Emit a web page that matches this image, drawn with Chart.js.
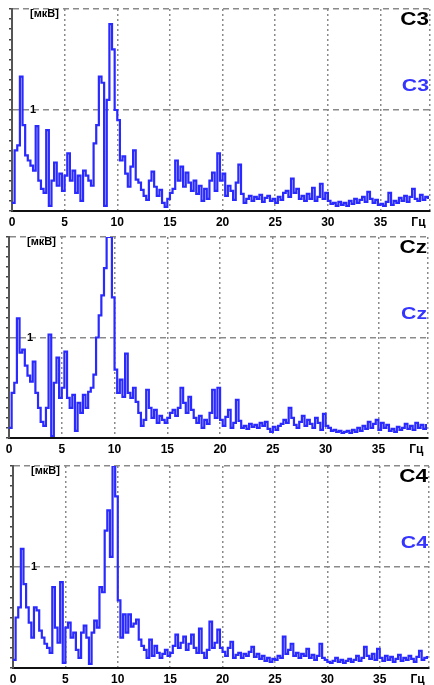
<!DOCTYPE html>
<html>
<head>
<meta charset="utf-8">
<script src="https://cdn.jsdelivr.net/npm/chart.js@4.4.0/dist/chart.umd.min.js"></script>
<style>
  html, body { margin: 0; padding: 0; background: #fff; }
  body { width: 434px; height: 685px; position: relative; overflow: hidden; }
  canvas { position: absolute; left: 0; }
</style>
</head>
<body>
<canvas id="p0" width="434" height="228" style="top:0px"></canvas>
<canvas id="p1" width="434" height="228" style="top:228px"></canvas>
<canvas id="p2" width="434" height="228" style="top:457px"></canvas>
<script>
// spectrum values, one per 0.25 Hz bin starting at 0 Hz
const freqStep = 0.25;
const channelNames = ['C3', 'Cz', 'C4'];
const unitLabel = '[мкВ]';
const freqUnit = 'Гц';
const xTickValues = [0, 5, 10, 15, 20, 25, 30, 35];
const xTickLabels = ['0', '5', '10', '15', '20', '25', '30', '35'];
const xMax = 39.7;
const yMax = 2;

const c3Values = [
  0.08, 0.60, 0.65, 1.33, 0.85, 0.55, 0.50, 0.45, 0.40, 0.84,
  0.30, 0.22, 0.18, 0.80, 0.05, 0.30, 0.48, 0.25, 0.37, 0.20,
  0.35, 0.57, 0.30, 0.40, 0.18, 0.35, 0.10, 0.40, 0.35, 0.30,
  0.25, 0.67, 0.85, 1.33, 1.27, 0.05, 1.10, 1.85, 1.60, 1.00,
  0.90, 0.50, 0.54, 0.37, 0.24, 0.44, 0.60, 0.31, 0.28, 0.21,
  0.15, 0.11, 0.30, 0.39, 0.24, 0.15, 0.21, 0.08, 0.04, 0.12,
  0.18, 0.22, 0.50, 0.30, 0.44, 0.24, 0.38, 0.28, 0.20, 0.30,
  0.17, 0.25, 0.10, 0.22, 0.12, 0.30, 0.38, 0.20, 0.57, 0.30,
  0.37, 0.15, 0.25, 0.20, 0.11, 0.28, 0.46, 0.17, 0.08, 0.12,
  0.15, 0.10, 0.14, 0.12, 0.16, 0.09, 0.13, 0.15, 0.10, 0.12,
  0.08, 0.14, 0.11, 0.18, 0.20, 0.14, 0.32, 0.18, 0.22, 0.12,
  0.15, 0.10, 0.17, 0.12, 0.23, 0.10, 0.14, 0.27, 0.12, 0.18,
  0.10, 0.07, 0.08, 0.05, 0.09, 0.06, 0.08, 0.05, 0.10, 0.07,
  0.12, 0.08, 0.11, 0.14, 0.09, 0.19, 0.12, 0.08, 0.11, 0.06,
  0.07, 0.05, 0.09, 0.18, 0.06, 0.10, 0.08, 0.13, 0.10, 0.15,
  0.09, 0.14, 0.22, 0.12, 0.10, 0.16, 0.11, 0.14, 0.12
];

const czValues = [
  0.10, 0.45, 0.55, 1.19, 0.85, 0.88, 0.72, 0.62, 0.56, 0.76,
  0.45, 0.30, 0.16, 0.12, 0.30, 1.03, 0.02, 0.55, 0.80, 0.40,
  0.50, 0.86, 0.40, 0.30, 0.43, 0.07, 0.35, 0.25, 0.43, 0.30,
  0.46, 0.50, 0.63, 1.00, 1.22, 1.42, 1.69, 2.00, 2.00, 1.40,
  0.68, 0.45, 0.58, 0.41, 0.84, 0.45, 0.40, 0.50, 0.36, 0.25,
  0.12, 0.18, 0.48, 0.30, 0.20, 0.28, 0.15, 0.22, 0.18, 0.15,
  0.20, 0.25, 0.28, 0.22, 0.30, 0.50, 0.35, 0.25, 0.41, 0.28,
  0.20, 0.15, 0.22, 0.10, 0.18, 0.14, 0.25, 0.48, 0.20, 0.50,
  0.18, 0.12, 0.21, 0.28, 0.10, 0.15, 0.38, 0.17, 0.10, 0.12,
  0.09, 0.14, 0.11, 0.13, 0.10, 0.15, 0.12, 0.16, 0.09, 0.06,
  0.11, 0.08, 0.12, 0.14, 0.18, 0.15, 0.30, 0.20, 0.13, 0.10,
  0.16, 0.22, 0.12, 0.18, 0.14, 0.10, 0.20, 0.15, 0.08, 0.24,
  0.12, 0.10, 0.07, 0.08, 0.06, 0.07, 0.05, 0.06, 0.07, 0.05,
  0.08, 0.06, 0.10, 0.07, 0.12, 0.09, 0.16, 0.10, 0.14, 0.18,
  0.08, 0.15, 0.10, 0.13, 0.07, 0.09, 0.06, 0.11, 0.08, 0.10,
  0.14, 0.09, 0.12, 0.08, 0.15, 0.10, 0.13, 0.09, 0.14
];

const c4Values = [
  0.08, 0.50, 0.60, 1.18, 0.83, 0.60, 0.45, 0.30, 0.60, 0.57,
  0.37, 0.30, 0.24, 0.20, 0.15, 0.80, 0.40, 0.25, 0.85, 0.05,
  0.40, 0.45, 0.30, 0.35, 0.18, 0.10, 0.35, 0.42, 0.30, 0.04,
  0.35, 0.47, 0.40, 0.80, 0.75, 1.36, 1.56, 1.10, 2.00, 1.70,
  0.67, 0.30, 0.53, 0.35, 0.53, 0.41, 0.44, 0.48, 0.28, 0.22,
  0.18, 0.10, 0.28, 0.12, 0.22, 0.15, 0.10, 0.14, 0.18, 0.12,
  0.15, 0.22, 0.33, 0.20, 0.25, 0.31, 0.18, 0.24, 0.33, 0.20,
  0.15, 0.39, 0.15, 0.10, 0.18, 0.46, 0.20, 0.25, 0.38, 0.20,
  0.16, 0.12, 0.20, 0.26, 0.10, 0.13, 0.15, 0.10, 0.14, 0.12,
  0.16, 0.21, 0.11, 0.14, 0.09, 0.12, 0.07, 0.10, 0.06, 0.09,
  0.08, 0.12, 0.10, 0.31, 0.14, 0.18, 0.24, 0.12, 0.15, 0.10,
  0.14, 0.12, 0.19, 0.10, 0.13, 0.08, 0.12, 0.24, 0.10, 0.08,
  0.06, 0.05, 0.07, 0.10, 0.06, 0.08, 0.05, 0.07, 0.09, 0.06,
  0.08, 0.12, 0.07, 0.10, 0.21, 0.12, 0.09, 0.14, 0.08, 0.19,
  0.10, 0.07, 0.12, 0.08, 0.11, 0.06, 0.09, 0.13, 0.07, 0.10,
  0.08, 0.12, 0.09, 0.06, 0.11, 0.17, 0.08, 0.10, 0.12
];

const seriesList = [c3Values, czValues, c4Values];

// where each panel's plot box sits inside its canvas
const panelBoxes = [
  { left: 12, right: 4, top: 9, axisH: 17 },
  { left: 9, right: 6, top: 9, axisH: 18 },
  { left: 13, right: 5, top: 9, axisH: 17 }
];

const unitTickPos = 38.6;
const fontFamily = '"Liberation Sans", Arial, sans-serif';

function drawStretched(ctx, text, x, y, color, font) {
  ctx.save();
  ctx.translate(x, y);
  ctx.scale(1.25, 1);
  ctx.font = font;
  ctx.fillStyle = color;
  ctx.textAlign = 'right';
  ctx.textBaseline = 'middle';
  ctx.fillText(text, 0, 0);
  ctx.restore();
}

const panelLabels = {
  id: 'panelLabels',
  afterDraw(chart, args, opts) {
    const ctx = chart.ctx;
    const a = chart.chartArea;
    ctx.save();
    ctx.translate(a.left + 18, a.top + 5);
    ctx.scale(1.1, 1);
    ctx.font = 'bold 10px ' + fontFamily;
    ctx.fillStyle = '#000';
    ctx.textBaseline = 'middle';
    ctx.fillText(unitLabel, 0, 0);
    ctx.restore();
    drawStretched(ctx, opts.name, a.right - 1, a.top + 11, '#000', 'bold 18px ' + fontFamily);
    drawStretched(ctx, opts.name, a.right - 1, a.top + 77, '#3535ff', 'bold 17px ' + fontFamily);
  }
};

function makePanel(idx) {
  const box = panelBoxes[idx];
  const values = seriesList[idx];
  const points = values.map((v, i) => ({ x: i * freqStep, y: v }));
  const ctx = document.getElementById('p' + idx).getContext('2d');

  return new Chart(ctx, {
    type: 'line',
    data: {
      datasets: [{
        data: points,
        stepped: true,
        borderColor: '#2a2aff',
        borderWidth: 2.2,
        pointRadius: 0,
        fill: false
      }]
    },
    options: {
      responsive: false,
      animation: false,
      devicePixelRatio: 1,
      layout: { padding: { left: box.left, right: box.right, top: box.top, bottom: 0 } },
      plugins: {
        legend: { display: false },
        tooltip: { enabled: false },
        panelLabels: { name: channelNames[idx] }
      },
      scales: {
        x: {
          type: 'linear',
          min: 0,
          max: xMax,
          afterBuildTicks: scale => {
            const t = xTickValues.map(v => ({ value: v }));
            t.push({ value: unitTickPos });
            t.push({ value: xMax });
            scale.ticks = t;
          },
          afterFit: scale => {
            scale.height = box.axisH;
            scale.paddingLeft = 0;
            scale.paddingRight = 0;
          },
          ticks: {
            autoSkip: false,
            maxRotation: 0,
            padding: 4,
            color: '#000',
            font: { family: fontFamily, size: 12, weight: 'bold' },
            callback: v => {
              if (v === unitTickPos) return freqUnit;
              const k = xTickValues.indexOf(v);
              return k >= 0 ? xTickLabels[k] : '';
            }
          },
          grid: {
            drawTicks: false,
            lineWidth: 1.5,
            color: c => (c.tick && c.tick.value === unitTickPos) ? 'rgba(0,0,0,0)' : '#8a8a8a'
          },
          border: { display: true, color: '#111', width: 2, dash: [2, 3] }
        },
        y: {
          min: 0,
          max: yMax,
          afterFit: scale => {
            scale.width = 0;
            scale.paddingTop = 0;
            scale.paddingBottom = 0;
          },
          ticks: {
            stepSize: 0.1,
            autoSkip: false,
            mirror: true,
            padding: 18,
            color: '#000',
            font: { family: fontFamily, size: 11, weight: 'bold' },
            callback: v => Math.abs(v - 1) < 1e-6 ? '1' : ''
          },
          grid: {
            drawTicks: true,
            tickLength: 3,
            tickColor: '#444',
            lineWidth: 1.5,
            color: c => {
              if (!c.tick) return 'rgba(0,0,0,0)';
              const v = c.tick.value;
              return (Math.abs(v - 1) < 1e-6 || Math.abs(v - 2) < 1e-6) ? '#8a8a8a' : 'rgba(0,0,0,0)';
            }
          },
          border: { display: true, color: '#555', width: 2, dash: [6, 4] }
        }
      }
    },
    plugins: [panelLabels]
  });
}

for (let i = 0; i < 3; i++) makePanel(i);
</script>
</body>
</html>
